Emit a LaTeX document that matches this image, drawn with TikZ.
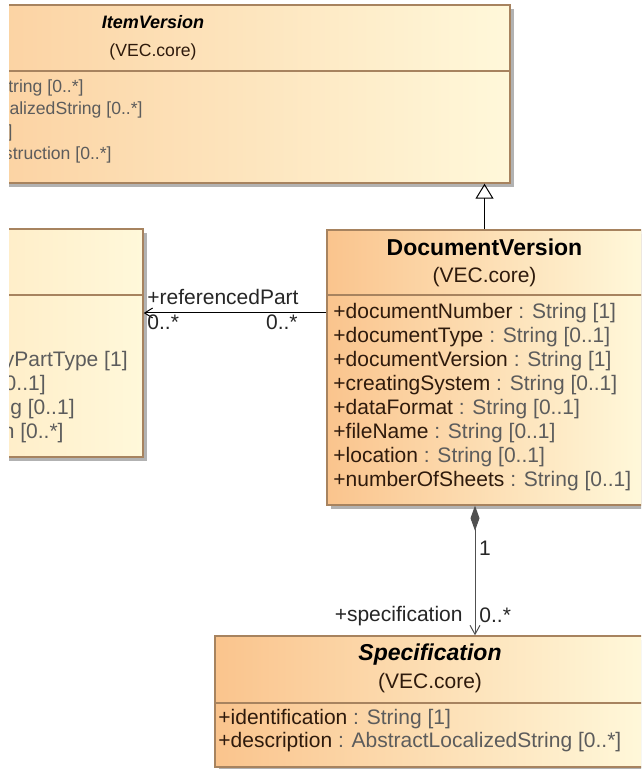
\documentclass[tikz,border=0pt]{standalone}
\usepackage{fontspec}
\setmainfont{Liberation Sans}
\usetikzlibrary{positioning, arrows.meta, shadows, fit}

\definecolor{umlpeach}{HTML}{FAC48D}
\definecolor{umlcream}{HTML}{FFF8DA}
\definecolor{umlpale}{HTML}{FFE3B6}
\definecolor{umledge}{HTML}{A7835F}
\definecolor{umlname}{HTML}{2E1A0C}
\definecolor{umltype}{HTML}{5C5C5C}
\definecolor{umlgrey}{HTML}{505050}

\begin{document}
\begin{tikzpicture}[x=0.5pt, y=-0.5pt]
\tikzset{
classbox/.style={draw=umledge, line width=0.7pt, inner sep=0pt,
  left color=umlpeach, right color=umlcream,
  drop shadow={shadow xshift=2pt, shadow yshift=-2pt, fill=black!30, opacity=1}}, % class rectangle
sepline/.style={draw=umledge, line width=0.7pt}, % compartment line
classname/.style={font=\fontsize{11.5}{13}\selectfont\bfseries}, % class name
pkgname/.style={font=\fontsize{10.5}{12}\selectfont, text=umlname}, % (VEC.core)
attr/.style={font=\fontsize{10.5}{12}\selectfont, anchor=west, inner sep=0pt}, % attribute line
cut/.style={font=\fontsize{10.5}{12}\selectfont, anchor=east, inner sep=0pt, text=umltype}, % clipped attribute
role/.style={font=\fontsize{10.5}{12}\selectfont, inner sep=0pt, text=black!85}, % association end label
generalization/.style={-{Triangle[open, length=7.5pt, width=9pt]}, line width=0.5pt},
association/.style={-{Straight Barb[length=4pt, width=5pt]}, line width=0.5pt},
composition/.style={{Diamond[length=12.5pt, width=4.5pt]}-{Straight Barb[length=4.5pt, width=5pt]}, draw=umlgrey, line width=0.5pt},
}
\useasboundingbox (0,0) rectangle (641,769);
\begin{scope}
\clip (9,0) rectangle (641,769);

% class rectangles
\coordinate (ivnw) at (-204,5);   \coordinate (ivse) at (510,183);
\coordinate (pbnw) at (-150,229); \coordinate (pbse) at (143,457);
\coordinate (dvnw) at (327,230);  \coordinate (dvse) at (642,505);
\coordinate (spnw) at (215,636);  \coordinate (spse) at (645,767);
\node[classbox, fit=(ivnw)(ivse)] (itemversion) {};
\node[classbox, fit=(pbnw)(pbse), left color=umlpale] (partbox) {};
\node[classbox, fit=(dvnw)(dvse)] (docversion) {};
\node[classbox, fit=(spnw)(spse)] (spec) {};

\draw[sepline] (itemversion.west |- 0,71) -- (itemversion.east |- 0,71);
\draw[sepline] (partbox.west |- 0,295) -- (partbox.east |- 0,295);
\draw[sepline] (docversion.west |- 0,295) -- (docversion.east |- 0,295);
\draw[sepline] (spec.west |- 0,703) -- (spec.east |- 0,703);

% ItemVersion
\node[classname, font=\fontsize{9}{11}\selectfont\bfseries\itshape] (ivname) at (itemversion.north |- 0,22) {ItemVersion};
\node[pkgname, font=\fontsize{8.8}{10}\selectfont] (ivpkg) at (itemversion.north |- 0,52) {(VEC.core)};
\node[cut, font=\fontsize{8.8}{10}\selectfont] (iv-1) at (84,88) {tring [0..*]};
\node[cut, font=\fontsize{8.8}{10}\selectfont] (iv-2) at (143,110) {calizedString [0..*]};
\node[cut, font=\fontsize{8.8}{10}\selectfont] (iv-3) at (13,133) {]};
\node[cut, font=\fontsize{8.8}{10}\selectfont] (iv-4) at (112,155) {struction [0..*]};

% referenced part (cut off)
\node[cut] (pb-1) at (128,361) {yPartType [1]};
\node[cut] (pb-2) at (46,385) {0..1]};
\node[cut] (pb-3) at (75,409) {g [0..1]};
\node[cut] (pb-4) at (64,433) {n [0..*]};

% DocumentVersion
\node[classname] (dvname) at (docversion.north |- 0,247) {DocumentVersion};
\node[pkgname] (dvpkg) at (docversion.north |- 0,277) {(VEC.core)};
\foreach \n/\t [count=\i] in {{documentNumber}/{String [1]}, {documentType}/{String [0..1]},
  {documentVersion}/{String [1]}, {creatingSystem}/{String [0..1]}, {dataFormat}/{String [0..1]},
  {fileName}/{String [0..1]}, {location}/{String [0..1]}, {numberOfSheets}/{String [0..1]}}
  \node[attr] (dv-\i) at (333, 289+24*\i) {\textcolor{umlname}{+\n} \textcolor{umltype}{: \t}};

% Specification
\node[classname, font=\fontsize{11.5}{13}\selectfont\bfseries\itshape] (spname) at (spec.north |- 0,655) {Specification};
\node[pkgname] (sppkg) at (spec.north |- 0,683) {(VEC.core)};
\node[attr] (sp-1) at (218,719) {\textcolor{umlname}{+identification} \textcolor{umltype}{: String [1]}};
\node[attr] (sp-2) at (218,742) {\textcolor{umlname}{+description} \textcolor{umltype}{: AbstractLocalizedString [0..*]}};

% connectors
\draw[generalization] (docversion.north) -- (docversion.north |- itemversion.south);
\draw[association] (docversion.west |- dv-1) -- (partbox.east |- dv-1);
\draw[composition] ([xshift=-4.75pt]docversion.south) -- ([xshift=-4.75pt]docversion.south |- spec.north);

\node[role, anchor=west] (refrole) at (147,297) {+referencedPart};
\node[role, anchor=west] (refmultl) at (147,322) {0..*};
\node[role, anchor=east] (refmultr) at (298,322) {0..*};
\node[role] (compone) at (485,548) {1};
\node[role, anchor=east] (specrole) at (463,616) {+specification};
\node[role, anchor=west] (specmult) at (479,615) {0..*};
\end{scope}
\end{tikzpicture}
\end{document}
